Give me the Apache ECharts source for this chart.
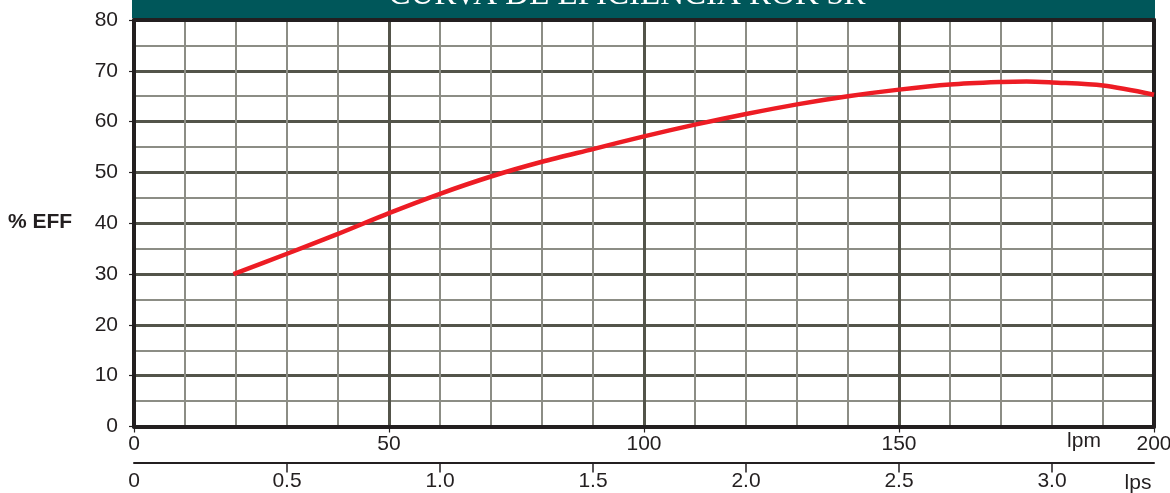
<!DOCTYPE html>
<html>
<head>
<meta charset="utf-8">
<script src="https://cdn.jsdelivr.net/npm/echarts@6/dist/echarts.min.js"></script>
<style>
html,body{margin:0;padding:0;background:#fff;}
#c{width:1170px;height:493px;}
</style>
</head>
<body>
<div id="c"></div>
<script>
// Data
const flowLpm = [19.5, 30, 40, 50, 60, 70, 80, 90, 100, 110, 120, 130, 140, 150, 160, 170, 175, 180, 190, 200];
const efficiency = [30, 34.0, 37.9, 42.0, 45.8, 49.2, 52.1, 54.6, 57.1, 59.4, 61.5, 63.4, 65.0, 66.3, 67.3, 67.8, 67.9, 67.7, 67.1, 65.3];
const lpsTicks = [0.5, 1.0, 1.5, 2.0, 2.5, 3.0];
const lpsLabels = [0, 0.5, 1.0, 1.5, 2.0, 2.5, 3.0];
const titleText = 'CURVA DE EFICIENCIA ROK 3R';
const yName = '% EFF';

const FONT = '"Liberation Sans", Arial, sans-serif';
const DARK = '#231f20';
const MAJOR = '#53544a';
const MINOR = '#8c8d85';

const chart = echarts.init(document.getElementById('c'), null, {renderer: 'canvas'});
const series = flowLpm.map((x, i) => [x, efficiency[i]]);

chart.setOption({
  animation: false,
  backgroundColor: '#fff',
  grid: {left: 134, right: 16, top: 20, bottom: 66.5, containLabel: false, outerBoundsMode: 'none'},
  xAxis: [
    { // lpm axis
      type: 'value', min: 0, max: 200, interval: 50, position: 'bottom',
      axisLine: {show: true, onZero: false, lineStyle: {color: DARK, width: 4}},
      axisTick: {show: true, length: 6, lineStyle: {color: DARK, width: 1.2}},
      axisLabel: {color: DARK, fontFamily: FONT, fontSize: 21, margin: 7},
      splitLine: {show: true, showMinLine: false, showMaxLine: false, lineStyle: {color: MAJOR, width: 3}},
      minorTick: {show: false, splitNumber: 5},
      minorSplitLine: {show: true, lineStyle: {color: MINOR, width: 2}},
      z: 1
    },
    { // lps axis
      type: 'value', min: 0, max: 200 / 60, position: 'bottom', offset: 36,
      axisLine: {show: true, onZero: false, lineStyle: {color: DARK, width: 2}},
      axisTick: {show: true, length: 10, customValues: lpsTicks, lineStyle: {color: DARK, width: 1.5}},
      axisLabel: {color: DARK, fontFamily: FONT, fontSize: 21, margin: 8, customValues: lpsLabels,
        formatter: v => v === 0 ? '0' : v.toFixed(1)},
      splitLine: {show: false}
    },
    { // top border
      type: 'value', min: 0, max: 200, position: 'top',
      axisLine: {show: true, onZero: false, lineStyle: {color: DARK, width: 4}},
      axisTick: {show: false}, axisLabel: {show: false}, splitLine: {show: false}, z: 3
    }
  ],
  yAxis: [
    {
      type: 'value', min: 0, max: 80, interval: 10, position: 'left',
      axisLine: {show: true, onZero: false, lineStyle: {color: DARK, width: 4}},
      axisTick: {show: true, length: 5, lineStyle: {color: DARK, width: 1.2}},
      axisLabel: {color: DARK, fontFamily: FONT, fontSize: 21, margin: 16},
      splitLine: {show: true, showMinLine: false, showMaxLine: false, lineStyle: {color: MAJOR, width: 3}},
      minorTick: {show: false, splitNumber: 2},
      minorSplitLine: {show: true, lineStyle: {color: MINOR, width: 2}},
      z: 1
    },
    { // right border
      type: 'value', min: 0, max: 80, position: 'right',
      axisLine: {show: true, onZero: false, lineStyle: {color: DARK, width: 4}},
      axisTick: {show: false}, axisLabel: {show: false}, splitLine: {show: false}, z: 3
    }
  ],
  series: [{
    type: 'line', xAxisIndex: 0, yAxisIndex: 0,
    data: series, smooth: 0.3, showSymbol: false, symbol: 'none',
    lineStyle: {color: '#ed1c24', width: 4.5},
    z: 4
  }],
  graphic: [
    {type: 'rect', left: 132, top: 0, shape: {width: 1023, height: 18}, style: {fill: '#00575a'}, z: 10},
    {type: 'text', x: 627, y: -21, z: 11,
      style: {text: titleText, fill: '#ffffff', font: '33px "Liberation Serif", "Times New Roman", serif',
        align: 'center', verticalAlign: 'top'}},
    {type: 'text', x: 8, y: 222, z: 11,
      style: {text: yName, fill: DARK, font: 'bold 21px "Liberation Sans", Arial, sans-serif',
        align: 'left', verticalAlign: 'middle'}},
    {type: 'text', x: 1084, y: 441, z: 11,
      style: {text: 'lpm', fill: DARK, font: '21px "Liberation Sans", Arial, sans-serif',
        align: 'center', verticalAlign: 'middle'}},
    {type: 'text', x: 1138, y: 483, z: 11,
      style: {text: 'lps', fill: DARK, font: '21px "Liberation Sans", Arial, sans-serif',
        align: 'center', verticalAlign: 'middle'}}
  ]
});
</script>
</body>
</html>
